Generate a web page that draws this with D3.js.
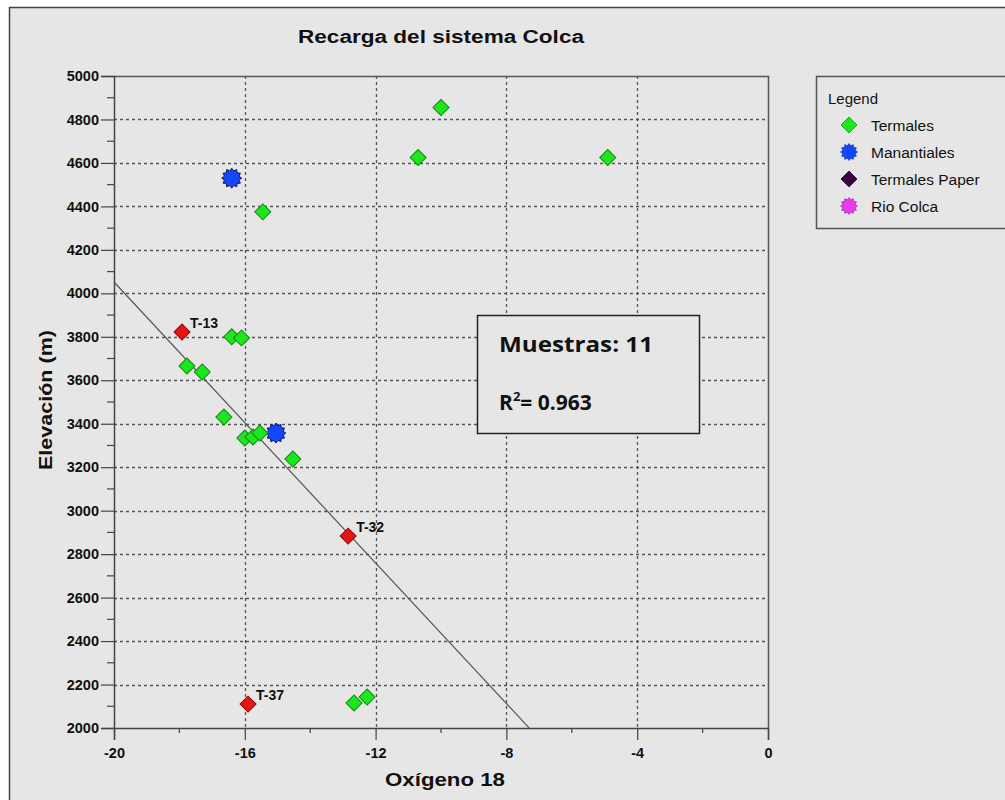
<!DOCTYPE html>
<html>
<head>
<meta charset="utf-8">
<script src="https://cdn.jsdelivr.net/npm/d3@7"></script>
<style>
  html, body { margin: 0; padding: 0; background: #ffffff; }
  svg { display: block; font-family: "Liberation Sans", Arial, sans-serif; }
</style>
</head>
<body>
<svg id="chart" width="1005" height="800"></svg>
<script>
// Termales (green diamonds): oxygen-18 (‰) and elevation (m)
const termalesO18 = [-10.0, -10.7, -4.9, -15.45, -16.4, -16.1, -17.77, -17.3, -16.64, -16.0, -15.75, -15.54, -14.53, -12.66, -12.26];
const termalesElev = [4855, 4625, 4625, 4375, 3800, 3795, 3666, 3638, 3431, 3334, 3339, 3357, 3238, 2115, 2143];

// Manantiales (blue)
const manantialesO18 = [-16.4, -15.05];
const manantialesElev = [4530, 3357];

// Labelled reference samples (red diamonds)
const refNames = ["T-13", "T-32", "T-37"];
const refO18 = [-17.92, -12.84, -15.9];
const refElev = [3822, 2883, 2110];

// Regression line: elevation = intercept + slope * O18
const fitSlope = -161.6;
const fitIntercept = 820;
const fitRange = [-20, -7.3];

// Axis ticks
const xTicks = [-20, -16, -12, -8, -4, 0];
const xMinorTicks = [-18, -14, -10, -6, -2];
const yTicks = [2000, 2200, 2400, 2600, 2800, 3000, 3200, 3400, 3600, 3800, 4000, 4200, 4400, 4600, 4800, 5000];
const yMinorTicks = [2100, 2300, 2500, 2700, 2900, 3100, 3300, 3500, 3700, 3900, 4100, 4300, 4500, 4700, 4900];

// Legend entries
const legendNames = ["Termales", "Manantiales", "Termales Paper", "Rio Colca"];
const legendShapes = ["diamond", "star", "diamond", "star"];
const legendColors = ["#1ee61e", "#1446ff", "#3c0040", "#e83ce8"];

const sampleCount = 11;
const r2 = "0.963";

const svg = d3.select("#chart");
const W = 1005, H = 800;

// Page background and outer frame
svg.append("rect").attr("x", 0).attr("y", 0).attr("width", W).attr("height", H).attr("fill", "#ffffff");
svg.append("rect").attr("x", 9.5).attr("y", 7.5).attr("width", W + 10).attr("height", H + 10)
  .attr("fill", "#e6e6e6").attr("stroke", "#444").attr("stroke-width", 1.5);

const plot = { left: 114, right: 768, top: 76, bottom: 728 };
const x = d3.scaleLinear().domain([-20, 0]).range([plot.left, plot.right]);
const y = d3.scaleLinear().domain([2000, 5000]).range([plot.bottom, plot.top]);

// Title
svg.append("text").attr("x", 441).attr("y", 43).attr("text-anchor", "middle")
  .attr("font-size", 18).attr("font-weight", "bold").attr("fill", "#111")
  .attr("textLength", 286).attr("lengthAdjust", "spacingAndGlyphs")
  .text("Recarga del sistema Colca");

// Grid (dotted)
const grid = svg.append("g").attr("stroke", "#555").attr("stroke-width", 1.3).attr("stroke-dasharray", "3,3");
grid.selectAll("line.h").data(yTicks.filter(d => d > 2000 && d < 5000)).join("line")
  .attr("x1", plot.left).attr("x2", plot.right)
  .attr("y1", d => Math.round(y(d)) + 0.5).attr("y2", d => Math.round(y(d)) + 0.5);
grid.selectAll("line.v").data(xTicks.filter(d => d > -20 && d < 0)).join("line")
  .attr("y1", plot.top).attr("y2", plot.bottom)
  .attr("x1", d => Math.round(x(d)) + 0.5).attr("x2", d => Math.round(x(d)) + 0.5);

// Plot frame (top and right)
svg.append("path")
  .attr("d", `M${plot.left},${plot.top + 0.5}H${plot.right + 0.5}V${plot.bottom}`)
  .attr("fill", "none").attr("stroke", "#555").attr("stroke-width", 1.5);

// Axes (plain hyphen for negative numbers)
const plainFormat = d => String(d);
const xAxis = d3.axisBottom(x).tickValues(xTicks).tickSize(12).tickPadding(5).tickFormat(plainFormat);
const gx = svg.append("g").attr("transform", `translate(0,${plot.bottom})`).call(xAxis);
const yAxis = d3.axisLeft(y).tickValues(yTicks).tickSize(13).tickPadding(2).tickFormat(plainFormat);
const gy = svg.append("g").attr("transform", `translate(${plot.left},0)`).call(yAxis);
[gx, gy].forEach(g => {
  g.select(".domain").attr("stroke", "#444").attr("stroke-width", 1.5);
  g.selectAll(".tick line").attr("stroke", "#444").attr("stroke-width", 1.2);
  g.selectAll(".tick text").attr("fill", "#111").attr("font-size", 14.5).attr("font-weight", "bold")
    .attr("font-family", "'Liberation Sans', Arial, sans-serif");
});
gx.selectAll(".tick text").attr("dy", "0.9em");
// Minor ticks
svg.append("g").selectAll("line").data(xMinorTicks).join("line")
  .attr("x1", d => x(d)).attr("x2", d => x(d)).attr("y1", plot.bottom).attr("y2", plot.bottom + 5)
  .attr("stroke", "#444").attr("stroke-width", 1.2);
svg.append("g").selectAll("line").data(yMinorTicks).join("line")
  .attr("x1", plot.left - 7).attr("x2", plot.left).attr("y1", d => y(d)).attr("y2", d => y(d))
  .attr("stroke", "#444").attr("stroke-width", 1.2);

// Axis titles
svg.append("text").attr("x", 445).attr("y", 786).attr("text-anchor", "middle")
  .attr("font-size", 19).attr("font-weight", "bold").attr("fill", "#111")
  .attr("textLength", 120).attr("lengthAdjust", "spacingAndGlyphs")
  .text("Oxígeno 18");
svg.append("text").attr("transform", "translate(52,400) rotate(-90)").attr("text-anchor", "middle")
  .attr("font-size", 19).attr("font-weight", "bold").attr("fill", "#111")
  .attr("textLength", 140).attr("lengthAdjust", "spacingAndGlyphs")
  .text("Elevación (m)");

// Regression line
const line = d3.line().x(d => x(d)).y(d => y(fitIntercept + fitSlope * d));
svg.append("path").datum(fitRange).attr("d", line)
  .attr("fill", "none").attr("stroke", "#555").attr("stroke-width", 1.2);

// Marker shapes
const diamondPath = d3.symbol().type(d3.symbolSquare).size(128)();
function starPath(rOuter, rInner, n) {
  const pts = [];
  for (let i = 0; i < n * 2; i++) {
    const a = (Math.PI * i) / n;
    const r = i % 2 === 0 ? rOuter : rInner;
    pts.push([r * Math.sin(a), -r * Math.cos(a)]);
  }
  return "M" + pts.map(p => p.join(",")).join("L") + "Z";
}
const starD = starPath(10, 7.5, 12);

function drawDiamonds(xs, ys, fill, stroke) {
  svg.append("g").selectAll("path").data(xs.map((v, i) => [v, ys[i]])).join("path")
    .attr("d", diamondPath)
    .attr("transform", d => `translate(${x(d[0])},${y(d[1])}) rotate(45)`)
    .attr("fill", fill).attr("stroke", stroke).attr("stroke-width", 1);
}
function drawStars(xs, ys, fill, stroke) {
  svg.append("g").selectAll("path").data(xs.map((v, i) => [v, ys[i]])).join("path")
    .attr("d", starD)
    .attr("transform", d => `translate(${x(d[0])},${y(d[1])})`)
    .attr("fill", fill).attr("stroke", stroke).attr("stroke-width", 1);
}

drawStars(manantialesO18, manantialesElev, "#1446ff", "#0a1a66");
drawDiamonds(termalesO18, termalesElev, "#1ee61e", "#0f8a0f");
drawDiamonds(refO18, refElev, "#e61414", "#8a0a0a");

// Sample labels
svg.append("g").selectAll("text").data(refNames).join("text")
  .attr("x", (d, i) => x(refO18[i]) + 8).attr("y", (d, i) => y(refElev[i]) - 4)
  .attr("font-size", 14).attr("font-weight", "bold").attr("fill", "#111")
  .text(d => d);

// Statistics box
svg.append("rect").attr("x", 477.5).attr("y", 315.5).attr("width", 222).attr("height", 118)
  .attr("fill", "#e6e6e6").attr("stroke", "#222").attr("stroke-width", 1.5);
svg.append("text").attr("x", 499).attr("y", 352)
  .attr("font-family", "'Open Sans', sans-serif").attr("font-size", 21).attr("font-weight", "bold").attr("fill", "#111")
  .attr("textLength", 154).attr("lengthAdjust", "spacingAndGlyphs")
  .text(`Muestras: ${sampleCount}`);
const r2Text = svg.append("text").attr("x", 499).attr("y", 410)
  .attr("font-family", "'Open Sans', sans-serif").attr("font-size", 21).attr("font-weight", "bold").attr("fill", "#111");
r2Text.append("tspan").text("R");
r2Text.append("tspan").attr("font-size", 13).attr("dy", -9).text("2");
r2Text.append("tspan").attr("dy", 9).text(`= ${r2}`);

// Legend
const lg = svg.append("g");
lg.append("rect").attr("x", 816.5).attr("y", 76.5).attr("width", 200).attr("height", 152)
  .attr("fill", "#e6e6e6").attr("stroke", "#555").attr("stroke-width", 1.5);
lg.append("text").attr("x", 828).attr("y", 104).attr("font-size", 15).attr("fill", "#111").text("Legend");
const rows = lg.selectAll("g.row").data(legendNames).join("g")
  .attr("transform", (d, i) => `translate(849,${125 + i * 27})`);
rows.append("path")
  .attr("d", (d, i) => legendShapes[i] === "diamond" ? diamondPath : starD)
  .attr("transform", (d, i) => legendShapes[i] === "diamond" ? "rotate(45)" : "scale(0.85)")
  .attr("fill", (d, i) => legendColors[i])
  .attr("stroke", (d, i) => d3.color(legendColors[i]).darker(1.2))
  .attr("stroke-width", 0.8);
rows.append("text").attr("x", 22).attr("y", 5.5).attr("font-size", 15.5).attr("fill", "#111").text(d => d);
</script>
</body>
</html>
